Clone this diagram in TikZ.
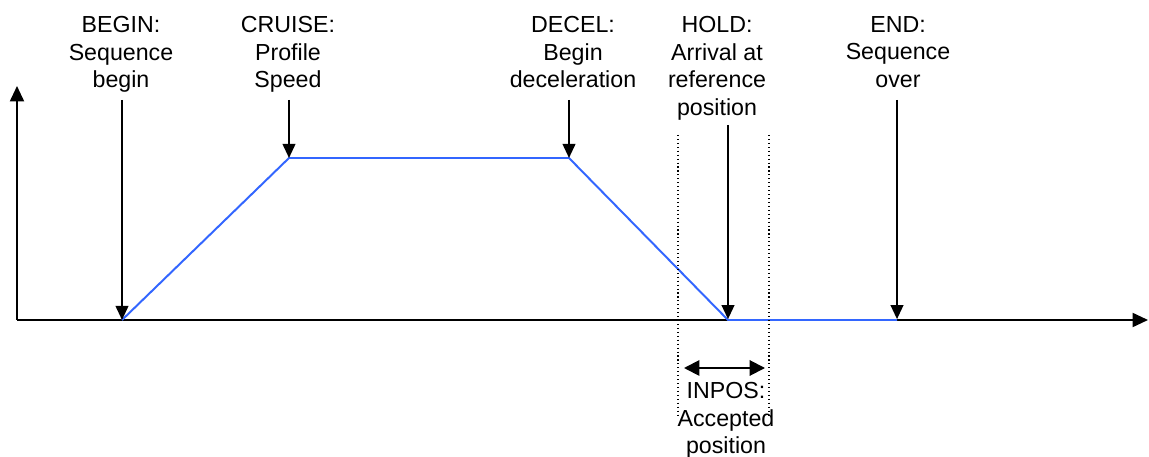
\documentclass[tikz,border=0pt]{standalone}
\usepackage{fontspec}
\setmainfont{Liberation Sans}
\usetikzlibrary{arrows.meta}
\definecolor{profileblue}{RGB}{51,102,255}

\begin{document}
\begin{tikzpicture}[
      x=0.025cm, y=-0.025cm,
      label/.style={align=center, anchor=north, inner sep=0pt,
                    font=\fontsize{16.5}{19.6}\selectfont},
      pointer/.style={-{Triangle[width=9pt, length=10pt]}, line width=1.4pt},
      axis/.style={-{Triangle[width=10pt, length=11pt]}, line width=1.4pt},
      profile/.style={profileblue, line width=1.4pt},
      window/.style={dotted, line width=0.8pt},
      span/.style={{Triangle[width=11pt, length=11pt]}-{Triangle[width=11pt, length=11pt]}, line width=1.4pt}
    ]
    \useasboundingbox (0,0) rectangle (1149,457);

    % --- axes ---
    \coordinate (origin) at (17,320);
    \coordinate (yend) at (17,86);
    \coordinate (xend) at (1148,320);
    \draw[axis] (origin) -- (yend);
    \draw[axis] (origin) -- (xend);

    % --- speed profile ---
    \coordinate (start) at (122,320);
    \coordinate (cruise) at (289,158);
    \coordinate (decel) at (569,158);
    \coordinate (hold) at (728,320);
    \coordinate (stop) at (897,320);
    \draw[profile] (start) -- (cruise) -- (decel) -- (hold) -- (stop);

    % --- event labels ---
    \node[label] (beginLbl) at (121,16) {BEGIN:\\Sequence\\begin};
    \node[label] (cruiseLbl) at (288,16) {CRUISE:\\Profile\\Speed};
    \node[label] (decelLbl) at (573,16) {DECEL:\\Begin\\deceleration};
    \node[label] (holdLbl) at (717,16) {HOLD:\\Arrival at\\reference\\position};
    \node[label] (endLbl) at (898,16) {END:\\Sequence\\over};

    \coordinate (beginTail) at (122,100);
    \coordinate (cruiseTail) at (289,100);
    \coordinate (decelTail) at (569,100);
    \coordinate (holdTail) at (728,125);
    \coordinate (endTail) at (897,100);
    \draw[pointer] (beginTail) -- (start);
    \draw[pointer] (cruiseTail) -- (cruise);
    \draw[pointer] (decelTail) -- (decel);
    \draw[pointer] (holdTail) -- ([yshift=0.6pt]hold);
    \draw[pointer] (endTail) -- ([yshift=0.6pt]stop);

    % --- in-position window ---
    \coordinate (winLeftTop) at (678,135);
    \coordinate (winLeftBot) at (678,415);
    \coordinate (winRightTop) at (769,135);
    \coordinate (winRightBot) at (769,415);
    \draw[window] (winLeftTop) -- (winLeftBot);
    \draw[window] (winRightTop) -- (winRightBot);
    \coordinate (spanLeft) at (684,368);
    \coordinate (spanRight) at (765,368);
    \draw[span] (spanLeft) -- (spanRight);
    \node[label] (inposLbl) at (726,382) {INPOS:\\Accepted\\position};
\end{tikzpicture}
\end{document}
